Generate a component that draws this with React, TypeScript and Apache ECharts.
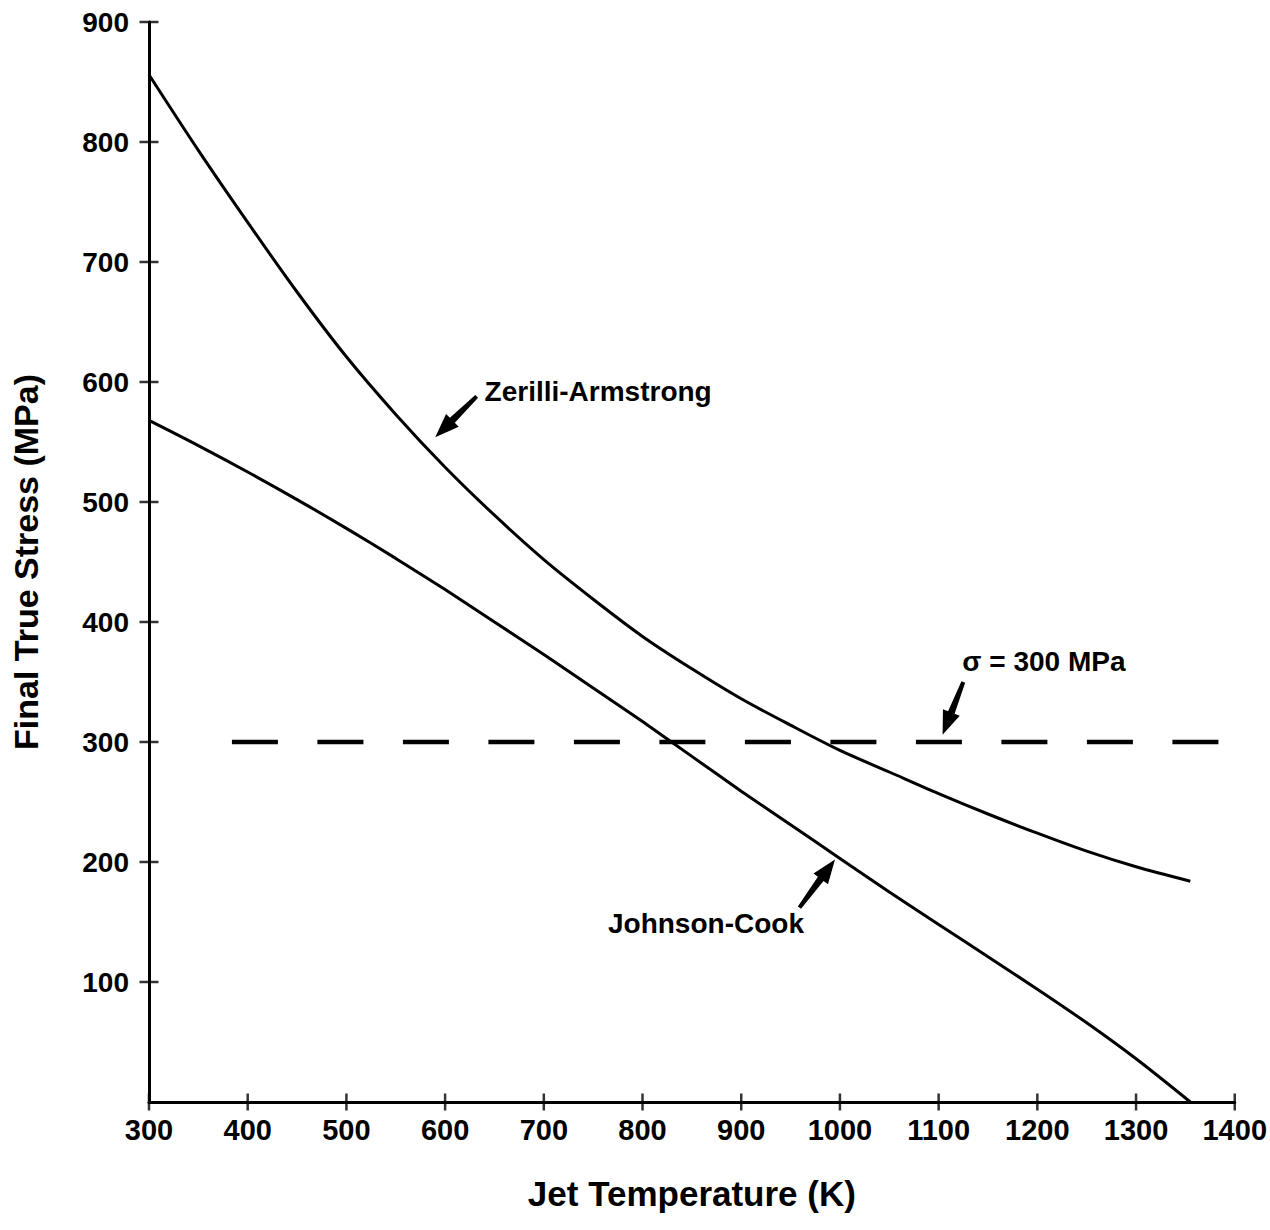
import React, { useEffect, useRef } from "react";
import * as echarts from "echarts";

// Jet temperature (K)
const temps = [300, 350, 400, 450, 500, 550, 600, 650, 700, 750, 800, 850, 900, 950, 1000, 1050, 1100, 1150, 1200, 1250, 1300, 1355];
// Zerilli-Armstrong final true stress (MPa)
const zaStress = [856, 793, 733, 675, 621, 573, 529, 489, 452, 419, 388, 361, 336, 314, 293, 275, 257, 240, 224, 209, 196, 184];
// Johnson-Cook final true stress (MPa)
const jcStress = [568, 547, 525, 502, 478, 453, 427, 400, 373, 345, 317, 288, 259, 231, 203, 175, 148, 121, 94, 66, 36, 0];
// Threshold line sigma = 300 MPa
const thresholdTemps = [384, 1389];
const thresholdStress = 300;
// Tick values
const xTickValues = [300, 400, 500, 600, 700, 800, 900, 1000, 1100, 1200, 1300, 1400];
const yTickValues = [100, 200, 300, 400, 500, 600, 700, 800, 900];

// Annotations (data coordinates)
const annotationTexts = ["Zerilli-Armstrong", "Johnson-Cook", "σ = 300 MPa"];
const annotationAnchors = [
  [640, 592],
  [765, 149],
  [1124, 367],
];
const arrowTails = [
  [632, 588],
  [959, 162],
  [1125, 350],
];
const arrowTips = [
  [590, 554],
  [995, 202],
  [1104, 306],
];

const FONT = "'Liberation Sans', Arial, Helvetica, sans-serif";

export default function App() {
  const ref = useRef<HTMLDivElement>(null);

  useEffect(() => {
    document.body.style.margin = "0";
    const chart = echarts.init(ref.current as HTMLDivElement, null, { renderer: "svg" });

    const option: any = {
      animation: false,
      backgroundColor: "#fff",
      grid: { left: 149, right: 35, top: 22, bottom: 128, containLabel: false },
      xAxis: {
        type: "value",
        min: 300,
        max: 1400,
        interval: 100,
        position: "bottom",
        axisLine: { onZero: false, lineStyle: { color: "#000", width: 3 } },
        axisTick: { show: false },
        axisLabel: {
          color: "#000",
          fontSize: 29,
          fontWeight: "bold",
          fontFamily: FONT,
          margin: 13,
          formatter: (v: number) => String(v),
        },
        splitLine: { show: false },
        name: "Jet Temperature (K)",
        nameLocation: "middle",
        nameGap: 74,
        nameTextStyle: { color: "#000", fontSize: 35, fontWeight: "bold", fontFamily: FONT },
      },
      yAxis: {
        type: "value",
        min: 0,
        max: 900,
        interval: 100,
        position: "left",
        axisLine: { onZero: false, lineStyle: { color: "#000", width: 3 } },
        axisTick: { show: false },
        axisLabel: {
          color: "#000",
          fontSize: 28,
          fontWeight: "bold",
          fontFamily: FONT,
          margin: 20,
          formatter: (v: number) => (v === 0 ? "" : String(v)),
        },
        splitLine: { show: false },
        name: "Final True Stress (MPa)",
        nameLocation: "middle",
        nameGap: 106,
        nameTextStyle: { color: "#000", fontSize: 34, fontWeight: "bold", fontFamily: FONT },
      },
      series: [
        {
          name: "Zerilli-Armstrong",
          type: "line",
          data: temps.map((t, i) => [t, zaStress[i]]),
          showSymbol: false,
          smooth: 0.3,
          lineStyle: { color: "#000", width: 3 },
        },
        {
          name: "Johnson-Cook",
          type: "line",
          data: temps.map((t, i) => [t, jcStress[i]]),
          showSymbol: false,
          smooth: 0.3,
          lineStyle: { color: "#000", width: 3 },
        },
        {
          name: "σ = 300 MPa",
          type: "line",
          data: thresholdTemps.map((t) => [t, thresholdStress]),
          showSymbol: false,
          lineStyle: { color: "#000", width: 4.5, type: [46, 39.5], cap: "butt" },
        },
        {
          name: "yTicks",
          type: "scatter",
          data: yTickValues.map((v) => [300, v]),
          symbol: "rect",
          symbolSize: [19, 2.5],
          itemStyle: { color: "#000" },
          clip: false,
          silent: true,
          z: 5,
        },
        {
          name: "xTicks",
          type: "scatter",
          data: xTickValues.map((v) => [v, 0]),
          symbol: "rect",
          symbolSize: [2.5, 17],
          itemStyle: { color: "#000" },
          clip: false,
          silent: true,
          z: 5,
        },
      ],
    };
    chart.setOption(option);

    const toPx = (p: number[]) => chart.convertToPixel({ xAxisIndex: 0, yAxisIndex: 0 }, p) as number[];
    const graphics: any[] = [];
    annotationTexts.forEach((txt, i) => {
      const a = toPx(annotationAnchors[i]);
      graphics.push({
        type: "text",
        x: a[0],
        y: a[1],
        style: {
          text: txt,
          fill: "#000",
          fontSize: 28,
          fontWeight: "bold",
          fontFamily: FONT,
          align: "left",
          verticalAlign: "middle",
        },
      });
      const T = toPx(arrowTails[i]);
      const P = toPx(arrowTips[i]);
      const dx = P[0] - T[0];
      const dy = P[1] - T[1];
      const len = Math.hypot(dx, dy);
      const ux = dx / len;
      const uy = dy / len;
      const nx = -uy;
      const ny = ux;
      const head = 24;
      const hw = 9;
      const sw = 3.5;
      const B = [P[0] - ux * head, P[1] - uy * head];
      graphics.push({
        type: "polygon",
        shape: {
          points: [
            [T[0] + nx * 2, T[1] + ny * 2],
            [B[0] + nx * sw, B[1] + ny * sw],
            [B[0] + nx * hw, B[1] + ny * hw],
            [P[0], P[1]],
            [B[0] - nx * hw, B[1] - ny * hw],
            [B[0] - nx * sw, B[1] - ny * sw],
            [T[0] - nx * 2, T[1] - ny * 2],
          ],
        },
        style: { fill: "#000" },
      });
    });
    chart.setOption({ graphic: graphics });

    return () => chart.dispose();
  }, []);

  return (
    <div
      ref={ref}
      style={{ position: "absolute", left: 0, top: 0, width: 1270, height: 1230, background: "#fff" }}
    />
  );
}
